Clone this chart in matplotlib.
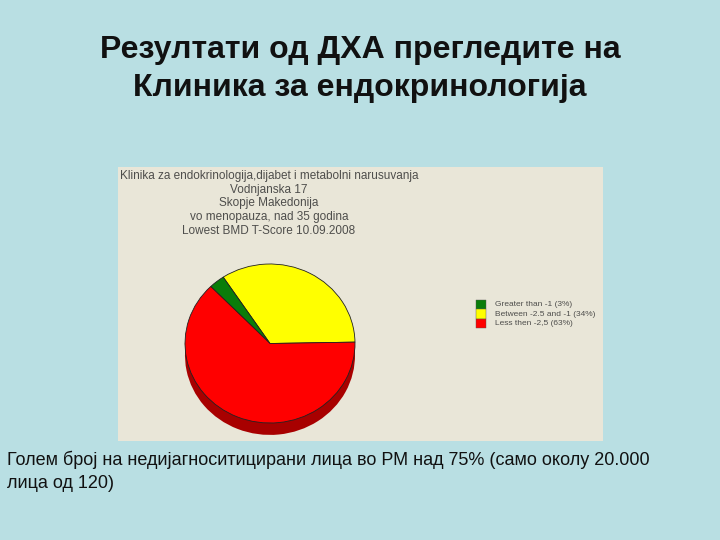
import matplotlib
matplotlib.use("Agg")
import matplotlib.pyplot as plt
from matplotlib.patches import Rectangle

plt.rcParams['font.family'] = ['Liberation Sans', 'DejaVu Sans']

# slices in drawing order, counterclockwise from the right edge
slice_labels = ["Between -2.5 and -1 (34%)", "Greater than -1 (3%)", "Less then -2,5 (63%)"]
slice_values = [34, 3, 63]
slice_colors = ["#ffff00", "#0a7d0a", "#ff0000"]
dark_colors = ["#a80000", "#a80000", "#a80000"]

legend_labels = ["Greater than -1 (3%)", "Between -2.5 and -1 (34%)", "Less then -2,5 (63%)"]
legend_colors = ["#0a7d0a", "#ffff00", "#ff0000"]

title_lines = ["Резултати од ДХА прегледите на", "Клиника за ендокринологија"]
chart_lines = ["Klinika za endokrinologija,dijabet i metabolni narusuvanja",
               "Vodnjanska 17",
               "Skopje Makedonija",
               "vo menopauza, nad 35 godina",
               "Lowest BMD T-Score 10.09.2008"]
note_lines = ["Голем број на недијагноситицирани лица во РМ над 75% (само околу 20.000",
              "лица од 120)"]

W, H = 720, 540
fig = plt.figure(figsize=(W / 100, H / 100), dpi=100, facecolor="#b9dfe3")

bg = fig.add_axes([0, 0, 1, 1])
bg.set_xlim(0, W)
bg.set_ylim(H, 0)
bg.axis("off")

# slide title
bg.text(360, 50, title_lines[0], ha="center", va="center", fontsize=23, fontweight="bold", color="#111111")
bg.text(360, 88, title_lines[1], ha="center", va="center", fontsize=23, fontweight="bold", color="#111111")

# pasted chart panel
bg.add_patch(Rectangle((118, 167), 485, 274, facecolor="#e9e6d8", edgecolor="none"))
for i, line in enumerate(chart_lines):
    bg.text(269, 176 + i * 13.7, line, ha="center", va="center", fontsize=8.5, color="#333333", alpha=0.85)

# legend
for i, (lab, col) in enumerate(zip(legend_labels, legend_colors)):
    y = 300 + i * 9.3
    bg.add_patch(Rectangle((476, y), 10, 9.3, facecolor=col, edgecolor="#555555", linewidth=0.3))
    bg.text(495, y + 4.7, lab, ha="left", va="center", fontsize=6, color="#333333", alpha=0.85)

# bottom note
for i, line in enumerate(note_lines):
    bg.text(7, 460 + i * 24, line, ha="left", va="center", fontsize=12.95, color="#111111")

# pie, in an axes stretched to the slightly squashed ellipse
x0, x1, y0, y1 = 185, 355, 264, 423
pie_ax = fig.add_axes([x0 / W, 1 - y1 / H, (x1 - x0) / W, (y1 - y0) / H])
pie_ax.pie(slice_values, colors=dark_colors, startangle=1, counterclock=True, center=(0, -0.15), radius=1,
           wedgeprops={"linewidth": 0, "clip_on": False})
pie_ax.pie(slice_values, colors=slice_colors, startangle=1, counterclock=True, radius=1,
           wedgeprops={"linewidth": 0.6, "edgecolor": "#222222", "clip_on": False})
pie_ax.set_aspect("auto")
pie_ax.set_xlim(-1, 1)
pie_ax.set_ylim(-1, 1)
pie_ax.axis("off")

fig.savefig("out.png", dpi=100, facecolor=fig.get_facecolor())
